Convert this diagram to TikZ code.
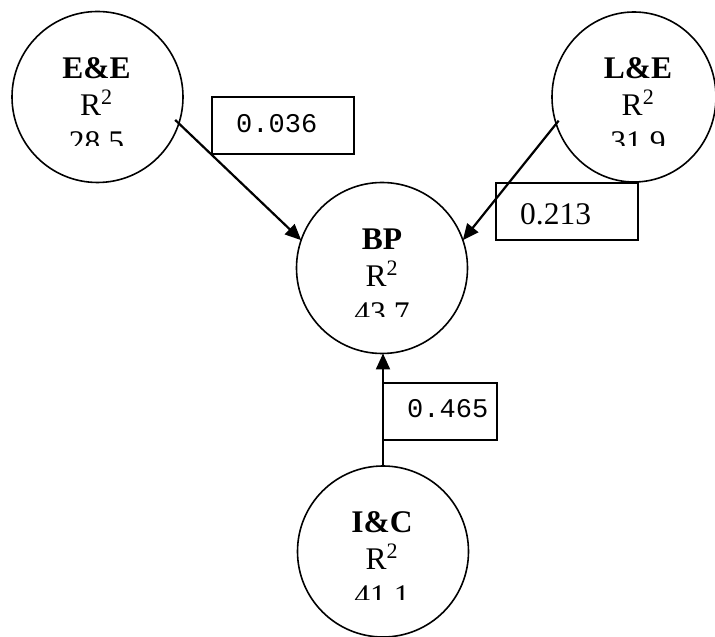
\documentclass[tikz,border=0pt]{standalone}
\usepackage{fontspec}
\setmainfont{Liberation Serif}
\newfontfamily\monofont{Liberation Mono}
\usetikzlibrary{arrows.meta,shapes.geometric}

\tikzset{
  construct/.style={circle,draw,line width=1.6pt,minimum size=171pt,inner sep=0pt,outer sep=0pt},
  ringlabel/.style={anchor=base,inner sep=0pt,font=\fontsize{31.5}{37}\selectfont},
  coefbox/.style={draw,line width=1.6pt,minimum width=142pt,minimum height=57pt,inner sep=0pt,outer sep=0pt},
  coefmono/.style={anchor=base west,inner sep=0pt,font=\monofont\fontsize{27}{30}\selectfont},
  coefserif/.style={anchor=base west,inner sep=0pt,font=\fontsize{31.5}{37}\selectfont},
  path arrow/.style={line width=2.2pt,-{Triangle[length=16pt,width=14pt]}}
}

% Three text lines of a construct, cut off below the third line's top part
\newcommand\ringtext[4]{%
  \begin{scope}
    \clip ([xshift=-90pt]#1.north) rectangle ([xshift=90pt,yshift=-134pt]#1.north);
    \node[ringlabel] (#1-name) at ([xshift=#2,yshift=-67pt]#1.north) {\textbf{#3}};
    \node[ringlabel] (#1-rsq)  at ([xshift=#2,yshift=-104pt]#1.north) {R\raisebox{2pt}{\textsuperscript{2}}};
    \node[ringlabel] (#1-val)  at ([xshift=#2,yshift=-141pt]#1.north) {#4};
  \end{scope}}

\begin{document}
\begin{tikzpicture}[x=1pt,y=1pt]
  \useasboundingbox (0,0) rectangle (715,637);

  % constructs
  \node[construct] (ee) at (97.5,540) {};
  \node[construct,ellipse,minimum width=164pt,minimum height=170pt] (le) at (634,540) {};
  \node[construct] (bp) at (382,369) {};
  \node[construct] (ic) at (383,85.5) {};

  \ringtext{ee}{-1pt}{E\&E}{28.5}
  \ringtext{le}{4pt}{L\&E}{31.9}
  \ringtext{bp}{0pt}{BP}{43.7}
  \ringtext{ic}{-1pt}{I\&C}{41.1}

  % path coefficients
  \node[coefbox] (c1) at (283,511.5) {};
  \node[coefbox] (c2) at (567,425.5) {};
  \node[coefbox,minimum width=114pt] (c3) at (440,225.5) {};
  \node[coefmono]  (c1-t) at ([shift={(24pt,-36pt)}]c1.north west) {0.036};
  \node[coefserif] (c2-t) at ([shift={(24pt,-42pt)}]c2.north west) {0.213};
  \node[coefmono]  (c3-t) at ([shift={(24pt,-35pt)}]c3.north west) {0.465};

  % structural paths
  \draw[path arrow,shorten <=-5pt] (ee.-18.7) -- (bp.161.8);
  \draw[path arrow,shorten <=-4pt] (le.199.7) -- (bp.19.2);
  \draw[path arrow] (ic.north) -- (ic.north |- bp.south);
\end{tikzpicture}
\end{document}
